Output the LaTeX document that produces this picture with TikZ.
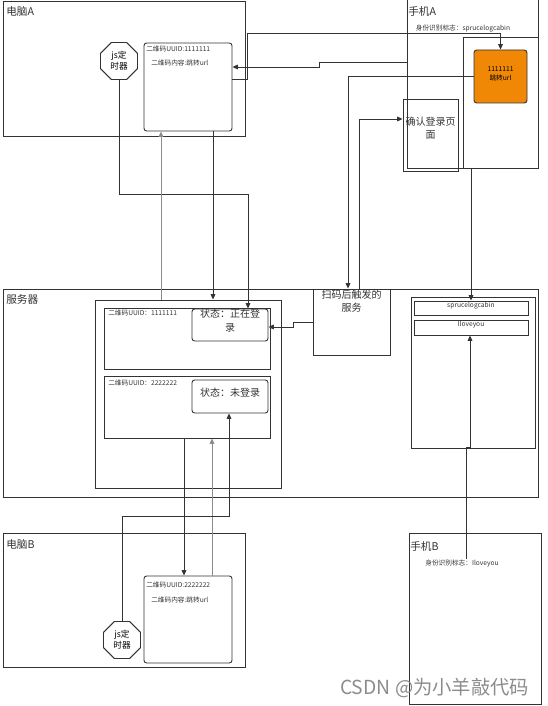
\documentclass[tikz,border=0pt]{standalone}
\usepackage{fontspec}
\setmainfont{Noto Sans CJK SC}
\usetikzlibrary{arrows.meta,positioning,shapes.geometric,fit,calc}
\definecolor{ln}{HTML}{333333}
\definecolor{lnlight}{HTML}{8C8C8C}
\definecolor{qrorange}{HTML}{F08705}
\tikzset{
 frame/.style={draw=ln,line width=0.7pt,inner sep=0pt},
 box/.style={draw=ln,line width=0.7pt,inner sep=0pt},
 rbox/.style={box,rounded corners=2pt,align=center},
 lbl/.style={font=\fontsize{8}{9}\selectfont,inner sep=0pt,text=ln},
 tiny/.style={font=\fontsize{5}{6}\selectfont,inner sep=0pt,text=ln},
 mid/.style={font=\fontsize{7.5}{10}\selectfont,align=center,text=ln},
 timer/.style={draw=ln,line width=0.7pt,regular polygon,regular polygon sides=8,
             minimum size=30pt,inner sep=0pt,align=center,font=\fontsize{6.5}{8}\selectfont},
 arrow/.style={-{Triangle[length=4pt,width=3.5pt]},draw=ln,line width=0.7pt},
 grayarrow/.style={arrow,draw=lnlight}
}
\begin{document}
\begin{tikzpicture}[x=0.75pt,y=-0.75pt]
\useasboundingbox (0,0) rectangle (548,706);
% computer A
\node[frame,fit={(3,1)(245,136)}] (pcA) {};
\node[lbl,anchor=west] at (6,11) {电脑A};
\node[timer] (timerA) at (119,61) {js定\\时器};
\node[rbox,fit={(144,43)(232,131)}] (qrA) {};
\node[tiny,anchor=west] at (146,49) {二维码UUID:1111111};
\node[tiny,anchor=west] at (151,63) {二维码内容:跳转url};
% phone A
\node[frame,fit={(407,-5)(538,168)}] (phoneA) {};
\node[lbl,anchor=west] at (408,11) {手机A};
\node[tiny] (idA) at (463,29) {身份识别标志：sprucelogcabin};
\node[box,fit={(463,37)(538,168)}] (screenA) {};
\node[rbox,fill=qrorange,font=\fontsize{5}{6.5}\selectfont,fit={(474,50)(527,103)}] (orange) {1111111\\跳转url};
\node[box,fit={(403,99)(458,171)}] (confirm) {};
\node[mid] at (430.5,128) {确认登录页\\面};
% server
\node[frame,fit={(3,289)(538,497)}] (server) {};
\node[lbl,anchor=west] at (6,299) {服务器};
\node[box,fit={(95,300)(281,488)}] (store) {};
\node[box,fit={(104,308)(270,369)}] (entry1) {};
\node[tiny,anchor=west] at (108,313) {二维码UUID：1111111};
\node[rbox,mid,fit={(192,309)(268,341)}] (state1) {状态：正在登\\录};
\node[box,fit={(104,376)(270,438)}] (entry2) {};
\node[tiny,anchor=west] at (108,383) {二维码UUID：2222222};
\node[rbox,mid,fit={(192,380)(268,413)}] (state2) {状态：未登录};
\node[box,fit={(313,289)(390,355)}] (svc) {};
\node[mid] at (351.5,301) {扫码后触发的\\服务};
\node[box,fit={(411,297)(535,448)}] (users) {};
\node[box,tiny,fit={(414,301)(528,315)}] (userA) {sprucelogcabin};
\node[box,tiny,fit={(414,320)(528,335)}] (userB) {Iloveyou};
% computer B
\node[frame,fit={(3,533)(245,667)}] (pcB) {};
\node[lbl,anchor=west] at (6,544) {电脑B};
\node[rbox,fit={(144,576)(232,663)}] (qrB) {};
\node[tiny,anchor=west] at (146,585) {二维码UUID:2222222};
\node[tiny,anchor=west] at (151,600) {二维码内容:跳转url};
\node[timer] (timerB) at (122,640) {js定\\时器};
% phone B
\node[frame,fit={(409,533)(541,704)}] (phoneB) {};
\node[lbl,anchor=west] at (410,546) {手机B};
\node[tiny] (idB) at (462,563) {身份识别标志：Iloveyou};
\node[font=\fontsize{14.5}{16}\selectfont,text=black!45,anchor=east] (mark) at (534,688) {CSDN @为小羊敲代码};
% connectors
\draw[arrow] (qrA.east |- 0,79) -| (247,33) -| (orange.north);
\draw[arrow] (phoneA.west |- 0,62) -- (319,62) -- (319,67) -- (qrA.east |- 0,67);
\draw[arrow] (orange.west) -| (svc.north -| 348,0);
\draw[arrow] (svc.north -| 359,0) |- (confirm.west |- 0,119);
\draw[arrow] (confirm.east |- 0,168) -| (userA.north -| 471,0);
\draw[arrow] (svc.west |- 0,322) -- (293,322) -- (293,327) -- (state1.east |- 0,327);
\draw[arrow] (timerA.south) |- (248,194) -- (state1.north -| 248,0);
\draw[arrow] (qrA.south -| 213,0) -- (store.north -| 213,0);
\draw[grayarrow] (store.north -| 161,0) -- (qrA.south -| 161,0);
\draw[arrow] (entry2.south -| 184,0) -- (qrB.north -| 184,0);
\draw[grayarrow] (qrB.north -| 212,0) -- (entry2.south -| 212,0);
\draw[arrow] (timerB.north) |- (229,516) -- (state2.south -| 229,0);
\draw[arrow] (idB.north -| 466,0) -- (466,447) -- (470,447) -- (userB.south -| 470,0);
\end{tikzpicture}
\end{document}
